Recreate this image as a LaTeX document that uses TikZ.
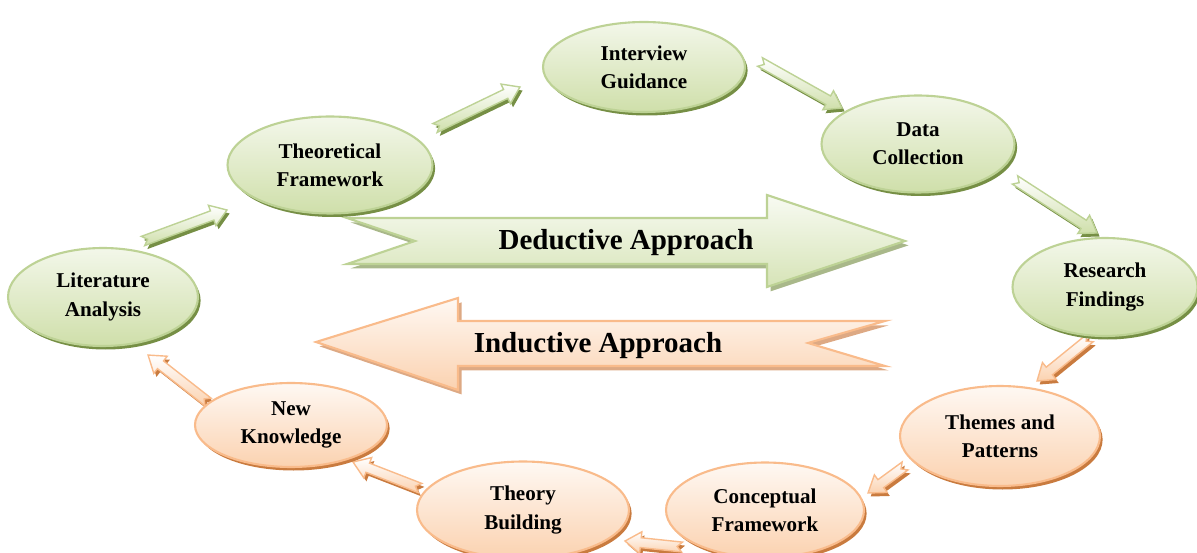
\documentclass[tikz,border=0pt]{standalone}
\usepackage{fontspec}
\setmainfont{Liberation Serif}
\usetikzlibrary{shapes,arrows,positioning,calc,shadows}

\definecolor{grnline}{HTML}{BDD295}
\definecolor{grnfill}{HTML}{CFDFAA}
\definecolor{grnshadow}{HTML}{768F45}
\definecolor{orgline}{HTML}{F9BB8B}
\definecolor{orgfill}{HTML}{FBD2B0}
\definecolor{orgshadow}{HTML}{C97B3F}
\definecolor{dedshadow}{HTML}{A9B88A}
\definecolor{indshadow}{HTML}{DDA984}

\tikzset{
  bubble/.style={ellipse, inner sep=0pt, line width=1.2pt, align=center,
    font=\fontsize{12}{16}\selectfont\bfseries},
  greenbub/.style={bubble, draw=grnline, top color=grnfill!25!white, bottom color=grnfill,
    preaction={fill=grnshadow, transform canvas={xshift=1.5pt, yshift=-2pt}}},
  orangebub/.style={bubble, draw=orgline, top color=orgfill!15!white, bottom color=orgfill,
    preaction={fill=orgshadow, transform canvas={xshift=1.5pt, yshift=-2pt}}},
  bigtext/.style={font=\fontsize{16.5}{20}\selectfont\bfseries, anchor=base},
}

% notched block arrow from one named coordinate to another
\newcommand{\blockarrow}[3]{%
  \pgfmathanglebetweenpoints{\pgfpointanchor{#1}{center}}{\pgfpointanchor{#2}{center}}%
  \let\arrang\pgfmathresult
  \pgfpointdiff{\pgfpointanchor{#1}{center}}{\pgfpointanchor{#2}{center}}%
  \pgfgetlastxy{\arrdx}{\arrdy}%
  \pgfmathsetmacro\arrlen{veclen(\arrdx,\arrdy)}%
  \pgfmathsetmacro\arrback{\arrlen-9}%
  \draw[#3line, line width=0.8pt, top color=white, bottom color=#3fill,
    preaction={fill=#3shadow, transform canvas={xshift=1.5pt, yshift=-2pt}},
    shift={(#1)}, rotate=\arrang]
    (0pt,2.8pt) -- (\arrback pt,2.8pt) -- (\arrback pt,6.2pt) -- (\arrlen pt,0pt)
    -- (\arrback pt,-6.2pt) -- (\arrback pt,-2.8pt) -- (0pt,-2.8pt) -- (2.8pt,0pt) -- cycle;
}

\begin{document}
\begin{tikzpicture}[x=0.02cm, y=-0.02cm]
  \useasboundingbox (0,0) rectangle (1197,553);
  \clip (0,0) rectangle (1197,553);

  % Deductive arrow
  \draw[grnline, line width=1.2pt, top color=grnfill!15!white, bottom color=grnfill!85!white,
    preaction={fill=dedshadow, transform canvas={xshift=2pt, yshift=-2.5pt}}]
    (347,218) -- (767,218) -- (767,195) -- (905,241) -- (767,287) -- (767,264)
    -- (347,264) -- (415,241) -- cycle;
  \node[bigtext] (ded) at (626,250) {Deductive Approach};

  % Inductive arrow
  \draw[orgline, line width=1.2pt, top color=orgfill!15!white, bottom color=orgfill,
    preaction={fill=indshadow, transform canvas={xshift=2pt, yshift=-2.5pt}}]
    (316,342) -- (458,298) -- (458,321) -- (885,321) -- (808,343) -- (885,366)
    -- (458,366) -- (458,390) -- cycle;
  \node[bigtext] (ind) at (598,353) {Inductive Approach};

  % Arrow ends
  \foreach \n/\x/\y in {a1s/143/241, a1e/227/210, a2s/435/128, a2e/520/87,
    a3s/760/62, a3e/842/108, a4s/1015/180, a4e/1097/233,
    a5s/1090/338, a5e/1037/381, a6s/905/466, a6e/868/493,
    a7s/682/547, a7e/625/541, a8s/420/488, a8e/353/462,
    a9s/208/402, a9e/148/355}
    \coordinate (\n) at (\x,\y);

  % Small arrows
  \foreach \s/\e in {a1s/a1e, a2s/a2e, a3s/a3e, a4s/a4e}
    {\blockarrow{\s}{\e}{grn}}
  \foreach \s/\e in {a5s/a5e, a6s/a6e, a7s/a7e, a8s/a8e, a9s/a9e}
    {\blockarrow{\s}{\e}{org}}

  % Deductive steps
  \foreach \n/\x/\y/\w/\h/\t in {lit/103/297/3.8/1.96/Literature\\Analysis,
    thf/330/165/4.1/1.94/Theoretical\\Framework,
    ing/644/67/4.04/1.8/Interview\\Guidance,
    dat/918/144/3.86/1.94/Data\\Collection,
    res/1105/287/3.7/1.96/Research\\Findings}
    \node[greenbub, minimum width=\w cm, minimum height=\h cm] (\n) at (\x,\y) {\t};

  % Inductive steps
  \foreach \n/\x/\y/\w/\h/\t in {thm/1000/436/4.0/2.0/Themes and\\Patterns,
    cfw/765/510/3.96/1.9/Conceptual\\Framework,
    thb/523/510/4.24/1.94/Theory\\Building,
    nkw/291/425/3.84/1.68/New\\Knowledge}
    \node[orangebub, minimum width=\w cm, minimum height=\h cm] (\n) at (\x,\y) {\t};
\end{tikzpicture}
\end{document}
